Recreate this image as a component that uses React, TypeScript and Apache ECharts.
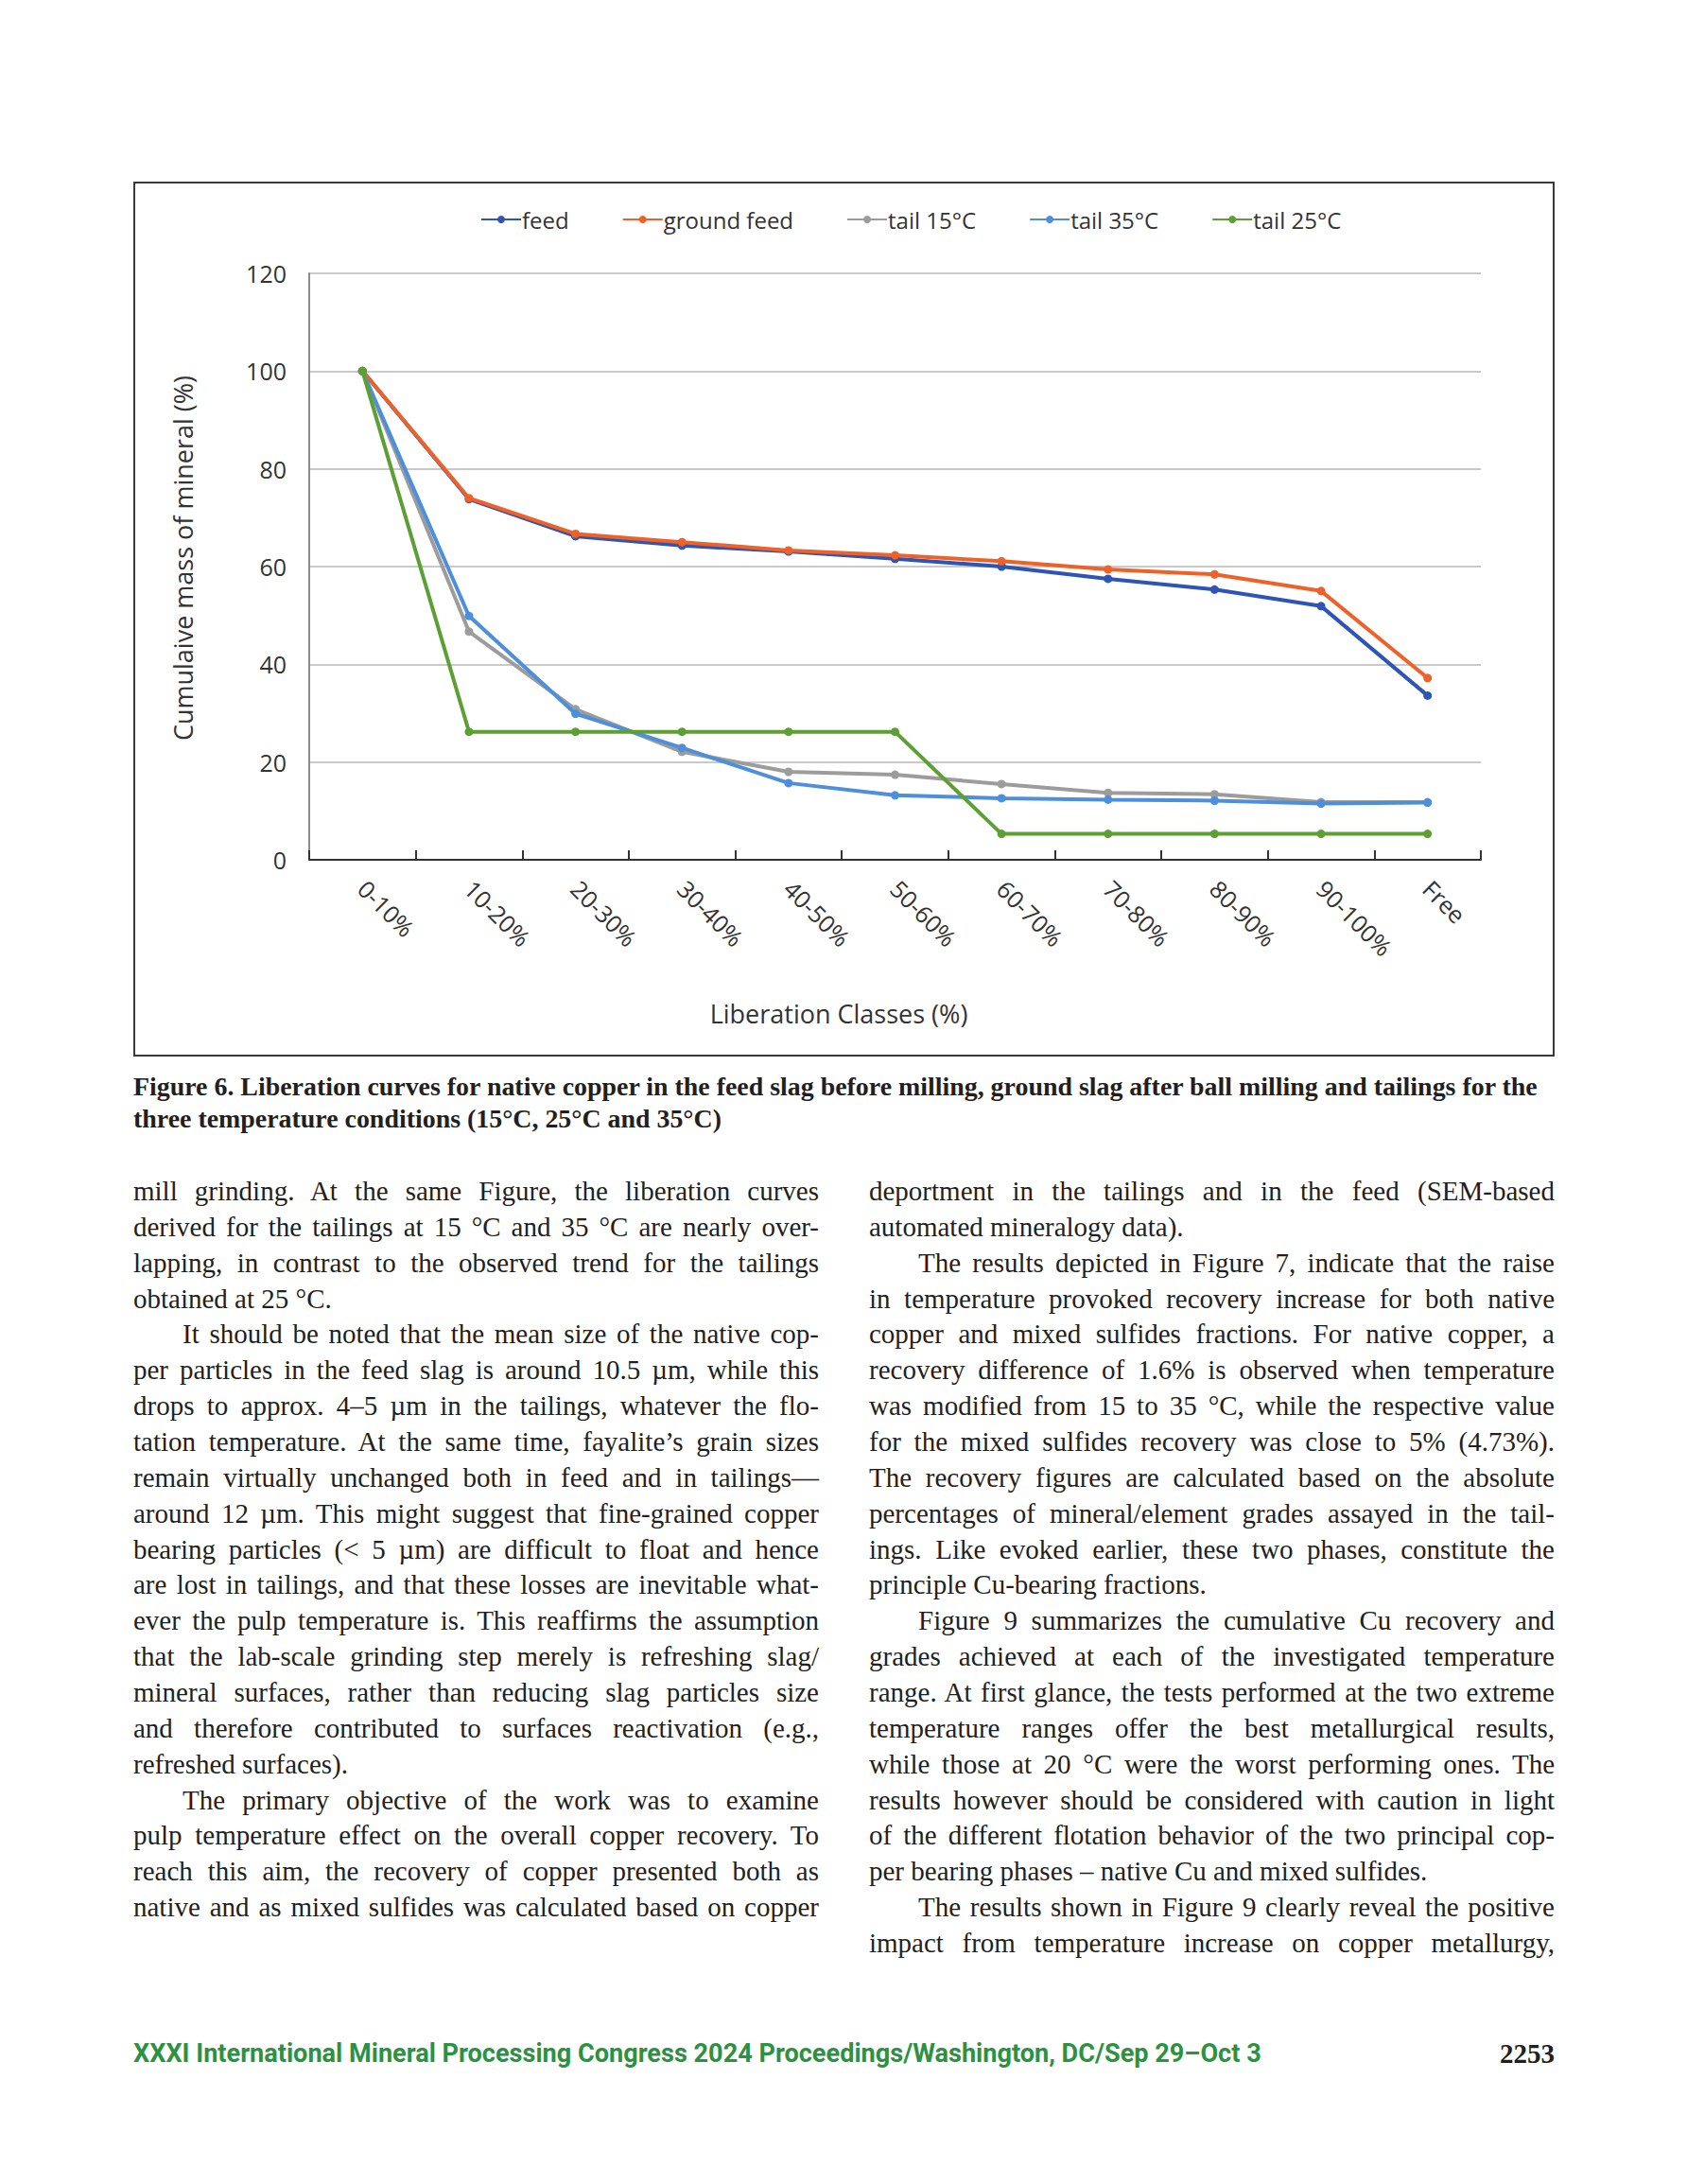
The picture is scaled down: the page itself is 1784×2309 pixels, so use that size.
import React, { useEffect, useLayoutEffect, useRef } from "react";
import * as echarts from "echarts";

const categories = ["0-10%", "10-20%", "20-30%", "30-40%", "40-50%", "50-60%", "60-70%", "70-80%", "80-90%", "90-100%", "Free"];
const feed = [100, 73.8, 66.2, 64.3, 63.1, 61.6, 60.0, 57.5, 55.3, 51.9, 33.6];
const groundFeed = [100, 74.0, 66.7, 65.0, 63.3, 62.3, 61.1, 59.4, 58.4, 55.0, 37.2];
const tail15 = [100, 46.7, 30.8, 22.1, 18.0, 17.4, 15.5, 13.7, 13.4, 11.8, 11.8];
const tail35 = [100, 49.9, 29.9, 22.9, 15.7, 13.2, 12.6, 12.3, 12.1, 11.5, 11.7];
const tail25 = [100, 26.2, 26.2, 26.2, 26.2, 26.2, 5.3, 5.3, 5.3, 5.3, 5.3];
const seriesNames = ["feed", "ground feed", "tail 15°C", "tail 35°C", "tail 25°C"];
const seriesColors = ["#2E54B5", "#EE6128", "#9C9C9C", "#4D8FDB", "#5CA033"];
const yTicks = [0, 20, 40, 60, 80, 100, 120];

const captionLines = [
  "Figure 6. Liberation curves for native copper in the feed slag before milling, ground slag after ball milling and tailings for the",
  "three temperature conditions (15°C, 25°C and 35°C)",
];

// [text, indent, lastLineOfParagraph]
const leftLines: [string, boolean, boolean][] = [
  ["mill grinding. At the same Figure, the liberation curves", false, false],
  ["derived for the tailings at 15 °C and 35 °C are nearly over-", false, false],
  ["lapping, in contrast to the observed trend for the tailings", false, false],
  ["obtained at 25 °C.", false, true],
  ["It should be noted that the mean size of the native cop-", true, false],
  ["per particles in the feed slag is around 10.5 µm, while this", false, false],
  ["drops to approx. 4–5 µm in the tailings, whatever the flo-", false, false],
  ["tation temperature. At the same time, fayalite’s grain sizes", false, false],
  ["remain virtually unchanged both in feed and in tailings—", false, false],
  ["around 12 µm. This might suggest that fine-grained copper", false, false],
  ["bearing particles (< 5 µm) are difficult to float and hence", false, false],
  ["are lost in tailings, and that these losses are inevitable what-", false, false],
  ["ever the pulp temperature is. This reaffirms the assumption", false, false],
  ["that the lab-scale grinding step merely is refreshing slag/", false, false],
  ["mineral surfaces, rather than reducing slag particles size", false, false],
  ["and therefore contributed to surfaces reactivation (e.g.,", false, false],
  ["refreshed surfaces).", false, true],
  ["The primary objective of the work was to examine", true, false],
  ["pulp temperature effect on the overall copper recovery. To", false, false],
  ["reach this aim, the recovery of copper presented both as", false, false],
  ["native and as mixed sulfides was calculated based on copper", false, false],
];

const rightLines: [string, boolean, boolean][] = [
  ["deportment in the tailings and in the feed (SEM-based", false, false],
  ["automated mineralogy data).", false, true],
  ["The results depicted in Figure 7, indicate that the raise", true, false],
  ["in temperature provoked recovery increase for both native", false, false],
  ["copper and mixed sulfides fractions. For native copper, a", false, false],
  ["recovery difference of 1.6% is observed when temperature", false, false],
  ["was modified from 15 to 35 °C, while the respective value", false, false],
  ["for the mixed sulfides recovery was close to 5% (4.73%).", false, false],
  ["The recovery figures are calculated based on the absolute", false, false],
  ["percentages of mineral/element grades assayed in the tail-", false, false],
  ["ings. Like evoked earlier, these two phases, constitute the", false, false],
  ["principle Cu-bearing fractions.", false, true],
  ["Figure 9 summarizes the cumulative Cu recovery and", true, false],
  ["grades achieved at each of the investigated temperature", false, false],
  ["range. At first glance, the tests performed at the two extreme", false, false],
  ["temperature ranges offer the best metallurgical results,", false, false],
  ["while those at 20 °C were the worst performing ones. The", false, false],
  ["results however should be considered with caution in light", false, false],
  ["of the different flotation behavior of the two principal cop-", false, false],
  ["per bearing phases – native Cu and mixed sulfides.", false, true],
  ["The results shown in Figure 9 clearly reveal the positive", true, false],
  ["impact from temperature increase on copper metallurgy,", false, false],
];

const footerText = "XXXI International Mineral Processing Congress 2024 Proceedings/Washington, DC/Sep 29–Oct 3";
const pageNumber = "2253";

const chartFont = "Open Sans";

function Chart() {
  const ref = useRef<HTMLDivElement>(null);
  useEffect(() => {
    if (!ref.current) return;
    const chart = echarts.init(ref.current, null, { renderer: "svg" });
    const dataSets = [feed, groundFeed, tail15, tail35, tail25];
    chart.setOption({
      animation: false,
      backgroundColor: "#fff",
      textStyle: { fontFamily: chartFont },
      legend: {
        top: 21,
        left: 360,
        itemGap: 56,
        itemWidth: 42,
        itemHeight: 10,
        textStyle: { fontSize: 24, color: "#333", fontFamily: chartFont, padding: [0, 0, 0, -4] },
        data: seriesNames,
      },
      grid: { left: 184, right: 76, top: 95, bottom: 206 },
      xAxis: {
        type: "category",
        data: categories,
        boundaryGap: true,
        axisLine: { show: true, lineStyle: { color: "#333", width: 2 } },
        axisTick: { show: true, inside: true, length: 10, lineStyle: { color: "#333", width: 2 } },
        axisLabel: { rotate: -45, margin: 26, fontSize: 25, color: "#333", interval: 0, fontFamily: chartFont },
        splitLine: { show: false },
      },
      yAxis: {
        type: "value",
        min: yTicks[0],
        max: yTicks[yTicks.length - 1],
        interval: 20,
        name: "Cumulaive mass of mineral (%)",
        nameLocation: "middle",
        nameGap: 120,
        nameTextStyle: { fontSize: 27, color: "#333", fontFamily: chartFont, padding: [0, 0, 0, 18] },
        axisLine: { show: true, lineStyle: { color: "#8c8c8c", width: 2 } },
        axisTick: { show: false },
        axisLabel: { fontSize: 25, color: "#333", margin: 24, fontFamily: chartFont },
        splitLine: { show: true, lineStyle: { color: "#c9c9c9", width: 2 } },
      },
      graphic: [
        {
          type: "text",
          x: 744,
          y: 877,
          style: {
            text: "Liberation Classes (%)",
            fontSize: 27,
            fontFamily: chartFont,
            fill: "#333",
            align: "center",
            verticalAlign: "middle",
          },
        },
      ],
      series: seriesNames.map((name, i) => ({
        name,
        type: "line",
        data: dataSets[i],
        symbol: "circle",
        symbolSize: 9,
        lineStyle: { width: 4, color: seriesColors[i] },
        itemStyle: { color: seriesColors[i] },
        z: 2 + i,
      })),
    });
    return () => chart.dispose();
  }, []);
  return <div ref={ref} style={{ width: 1499, height: 921 }} />;
}

const COL_W = 725;
const INDENT = 52;

function Line({ text, left, top, width, justify }: { text: string; left: number; top: number; width: number; justify: boolean }) {
  const spanRef = useRef<HTMLSpanElement>(null);
  useLayoutEffect(() => {
    const s = spanRef.current;
    if (!s) return;
    s.style.wordSpacing = "0px";
    s.style.transform = "none";
    const natural = s.getBoundingClientRect().width;
    const spaces = (text.match(/ /g) || []).length;
    if (justify && spaces > 0) {
      let ws = (width - natural) / spaces;
      if (ws < -2) ws = -2;
      s.style.wordSpacing = ws + "px";
      const now = s.getBoundingClientRect().width;
      if (now > width + 0.5) {
        s.style.transform = `scaleX(${width / now})`;
      }
    } else if (natural > width) {
      s.style.transform = `scaleX(${width / natural})`;
    }
  }, [text, width, justify]);
  return (
    <div
      style={{
        position: "absolute",
        left,
        top,
        width,
        height: 38,
        whiteSpace: "nowrap",
        fontFamily: "'Liberation Serif', serif",
        fontSize: 29,
        lineHeight: "38px",
        color: "#231f20",
      }}
    >
      <span ref={spanRef} style={{ display: "inline-block", transformOrigin: "0 50%" }}>
        {text}
      </span>
    </div>
  );
}

function Column({ lines, left }: { lines: [string, boolean, boolean][]; left: number }) {
  return (
    <>
      {lines.map(([t, indent, last], i) => (
        <Line
          key={i}
          text={t}
          left={left + (indent ? INDENT : 0)}
          width={COL_W - (indent ? INDENT : 0)}
          top={1240 + i * 37.86}
          justify={!last}
        />
      ))}
    </>
  );
}

export default function App() {
  return (
    <div style={{ position: "absolute", left: 0, top: 0, width: 1784, height: 2309, background: "#fff", overflow: "hidden" }}>
      <div
        style={{
          position: "absolute",
          left: 141,
          top: 192,
          width: 1503,
          height: 925,
          border: "2px solid #3a3a3a",
          boxSizing: "border-box",
        }}
      >
        <Chart />
      </div>
      {captionLines.map((t, i) => (
        <div
          key={i}
          style={{
            position: "absolute",
            left: 141,
            top: 1132 + i * 34,
            fontFamily: "'Liberation Serif', serif",
            fontWeight: 700,
            fontSize: 27.9,
            lineHeight: "34px",
            color: "#231f20",
            whiteSpace: "nowrap",
          }}
        >
          {t}
        </div>
      ))}
      <Column lines={leftLines} left={141} />
      <Column lines={rightLines} left={919} />
      <div
        style={{
          position: "absolute",
          left: 141,
          top: 2154,
          fontFamily: "Roboto, sans-serif",
          fontWeight: 700,
          fontSize: 27.1,
          lineHeight: "34px",
          color: "#2d9142",
          whiteSpace: "nowrap",
        }}
      >
        {footerText}
      </div>
      <div
        style={{
          position: "absolute",
          right: 140,
          top: 2154,
          fontFamily: "'Liberation Serif', serif",
          fontWeight: 700,
          fontSize: 29,
          lineHeight: "34px",
          color: "#231f20",
        }}
      >
        {pageNumber}
      </div>
    </div>
  );
}
